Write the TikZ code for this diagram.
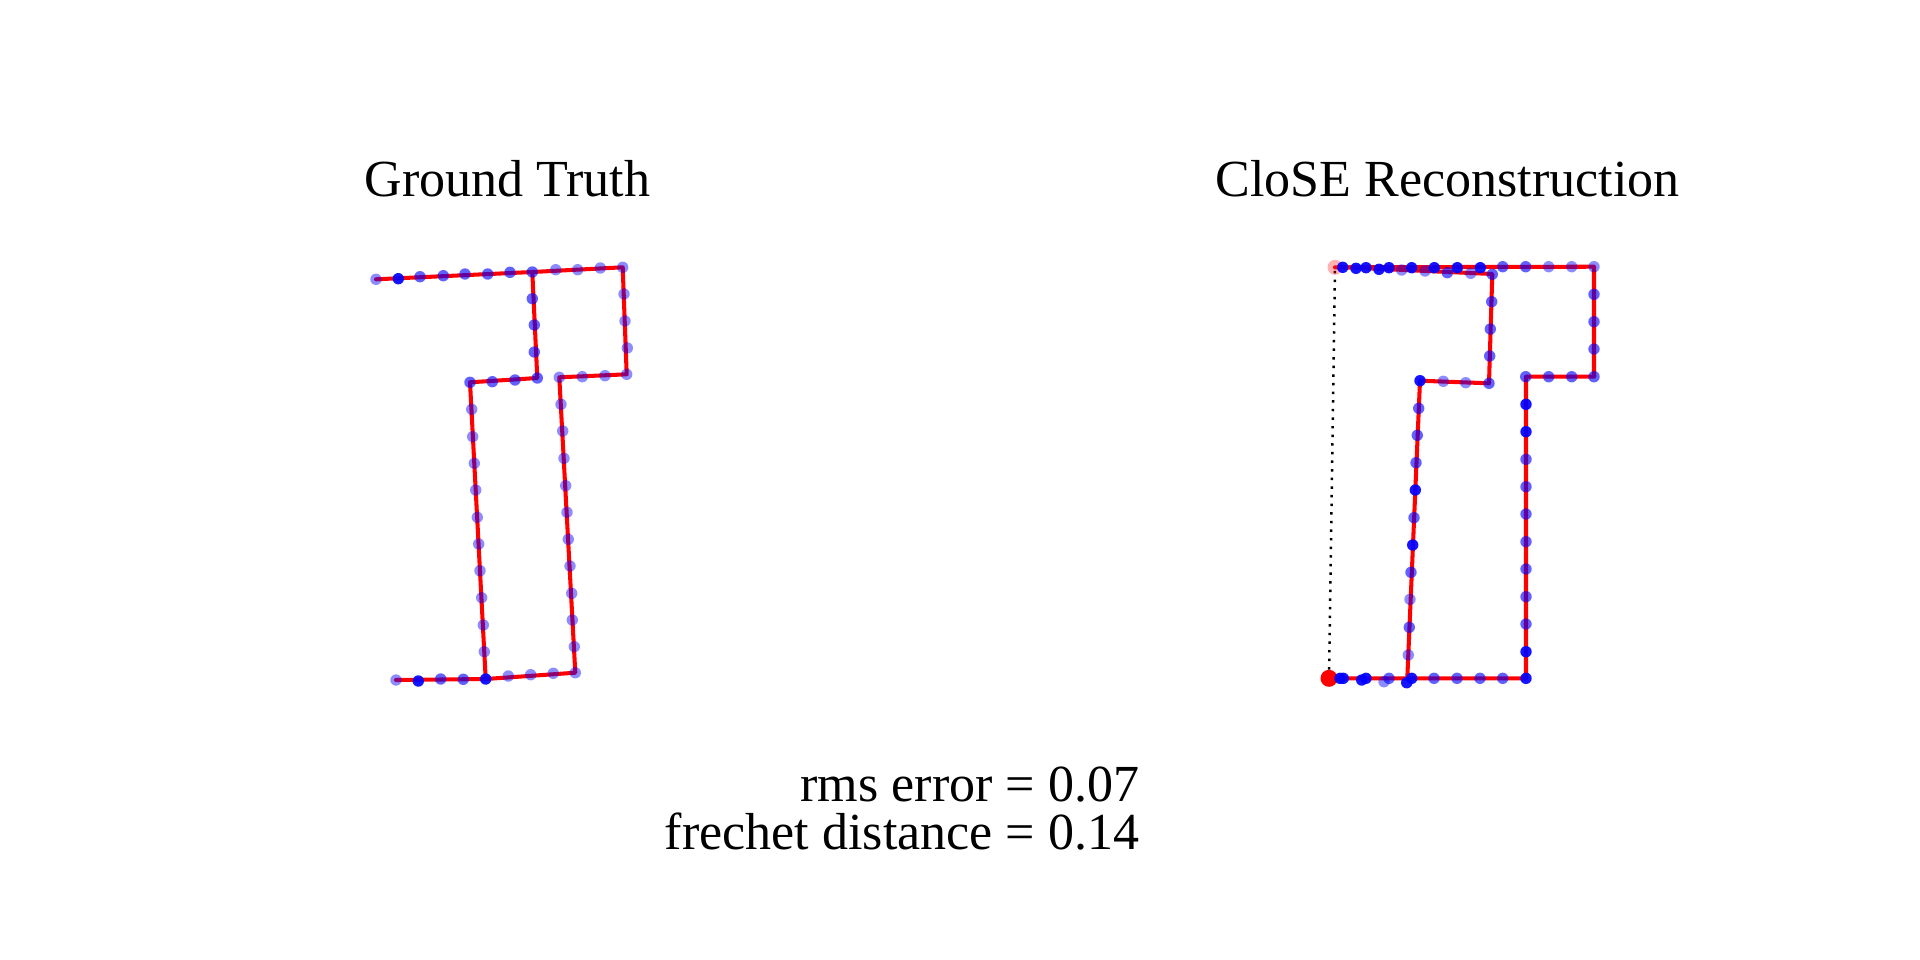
\documentclass[tikz,border=0pt]{standalone}
\usepackage{fontspec}
\setmainfont{Liberation Serif}
\begin{document}
\begin{tikzpicture}[x=0.01cm,y=-0.01cm,
  trace/.style={draw=red, line width=1.15pt, line join=round, line cap=round},
  dl/.style={fill=blue, fill opacity=0.45},
  dm/.style={fill=blue, fill opacity=0.62},
  ds/.style={fill=blue, fill opacity=0.92},
  lbl/.style={font=\fontsize{14.8}{17}\selectfont, inner sep=0pt}]
\useasboundingbox[fill=white] (0,0) rectangle (1920,960);

% ---------- titles ----------
\node[lbl, anchor=base] (tgt) at (507.5,196) {Ground Truth};
\node[lbl, anchor=base] (tcl) at (1447.5,196.5) {CloSE Reconstruction};
\node[lbl, anchor=base east] (rms) at (1140,801.5) {rms error = 0.07};
\node[lbl, anchor=base east] (fre) at (1140,849) {frechet distance = 0.14};

% ---------- ground truth ----------
\coordinate (gA) at (532.3,272);
\coordinate (gB) at (622.7,267.3);
\coordinate (gC) at (537.3,378);
\coordinate (gD) at (470,382.3);
\coordinate (gJ) at (485.7,679);
\coordinate (gE) at (575.3,672.7);
\coordinate (gF) at (559.3,377.3);
\coordinate (gG) at (626.7,374.3);
\coordinate (gS) at (376,279.3);
\coordinate (gT) at (396,680);
\draw[trace] (gS) -- (gA) -- (gB) -- (gG) -- (gF) -- (gE) -- (gJ) -- (gT);
\draw[trace] (gA) -- (gC) -- (gD) -- (gJ);

\foreach \x/\y in {376/279.3,555.7/269.7,577.7/269.7,600.3/268,622.7/267.3,
  624/294,625/321,627.3/348,626.7/374.3,605/375.7,582.3/376.7,559.3/377.3,
  561/404.3,562.7/431,564/458.3,565.7/485.7,567/512.3,568.3/539.3,570/566,
  571.7/593.3,572.3/620,574.3/646.7,575.3/672.7,553.3/673.3,530.7/674.7,
  508.3/676,396/680,
  471.7/409.3,472.7/436.7,474.3/463.3,475.7/490,477.3/517.3,478.7/544,
  480/570.7,481.7/597.7,483.3/625,484.3/651.7}
  \fill[dl] (\x,\y) circle[radius=0.57mm];
\foreach \x/\y in {420/276.7,443.3/275.7,465/274,487.7/274,510/272.3,532.3/272,
  532.3/298.7,534.3/325,534.3/352,537.3/378,515/380,492.3/381.7,470/382.3,
  440.7/679,463.3/679.3}
  \fill[dm] (\x,\y) circle[radius=0.57mm];
\foreach \x/\y in {398.3/278.7,418.3/681,485.7/679}
  \fill[ds] (\x,\y) circle[radius=0.57mm];

% ---------- reconstruction ----------
\coordinate (rS) at (1335,267.3);
\coordinate (rS2) at (1340,267);
\coordinate (rB) at (1594,266.7);
\coordinate (rG) at (1594,376.7);
\coordinate (rF) at (1526,376.7);
\coordinate (rE) at (1526,678.3);
\coordinate (rT) at (1329,678.3);
\coordinate (rA) at (1492.3,274);
\coordinate (rC) at (1489,383.3);
\coordinate (rD) at (1420,380.7);
\coordinate (rJ) at (1407.3,678.3);

\draw[black, line width=0.7pt, dash pattern=on 0.7pt off 1.75pt] (rT) -- (rS);
\draw[trace] (rS) -- (rB) -- (rG) -- (rF) -- (rE) -- (rT);
\draw[trace] (rS2) -- (rA) -- (rC) -- (rD) -- (rJ);

\fill[red, fill opacity=0.3] (rS) circle[radius=0.75mm];
\fill[red] (rT) circle[radius=0.85mm];

\foreach \x/\y in {1401.7/270,1425/271,1470.7/273.3,1548.7/266.7,1571.7/266.7,
  1594/266.7,1465.7/382.7,1443.3/381.3,1410/599.3,1408.3/655,1384/681.7}
  \fill[dl] (\x,\y) circle[radius=0.57mm];
\foreach \x/\y in {1447.3/272.7,1492.3/274.3,1502.7/266.7,1525.7/266.7,
  1594/294.3,1594/321.7,1594/349,1594/376.7,1571.7/376.7,1548.7/376.7,1525.7/376.7,
  1491.7/301.7,1490.3/329,1489.7/356,1489/383.3,
  1418.7/408.3,1417.3/435.3,1416/462.7,1414/517.7,1411/572.3,1409.3/627.3,
  1526/459.3,1526/486.7,1526/514,1526/541.7,1526/569,1526/596.7,1526/624,
  1389/678.3,1434/678.3,1457/678.3,1480/678.3,1502.7/678.3}
  \fill[dm] (\x,\y) circle[radius=0.57mm];
\foreach \x/\y in {1342.7/267.3,1356/268.3,1366/267.7,1379/269.3,1389/267.7,
  1411.7/267.7,1434.3/267.7,1457.3/267.7,1480.3/267.7,1420/380.7,
  1415.3/490,1412.7/545,1406.7/682.7,1411.7/678.3,
  1526/404.3,1526/431.7,1526/651.7,1526/678.3,
  1340/678.3,1343.3/678.3,1361.7/680,1366/678.3}
  \fill[ds] (\x,\y) circle[radius=0.57mm];
\end{tikzpicture}
\end{document}
